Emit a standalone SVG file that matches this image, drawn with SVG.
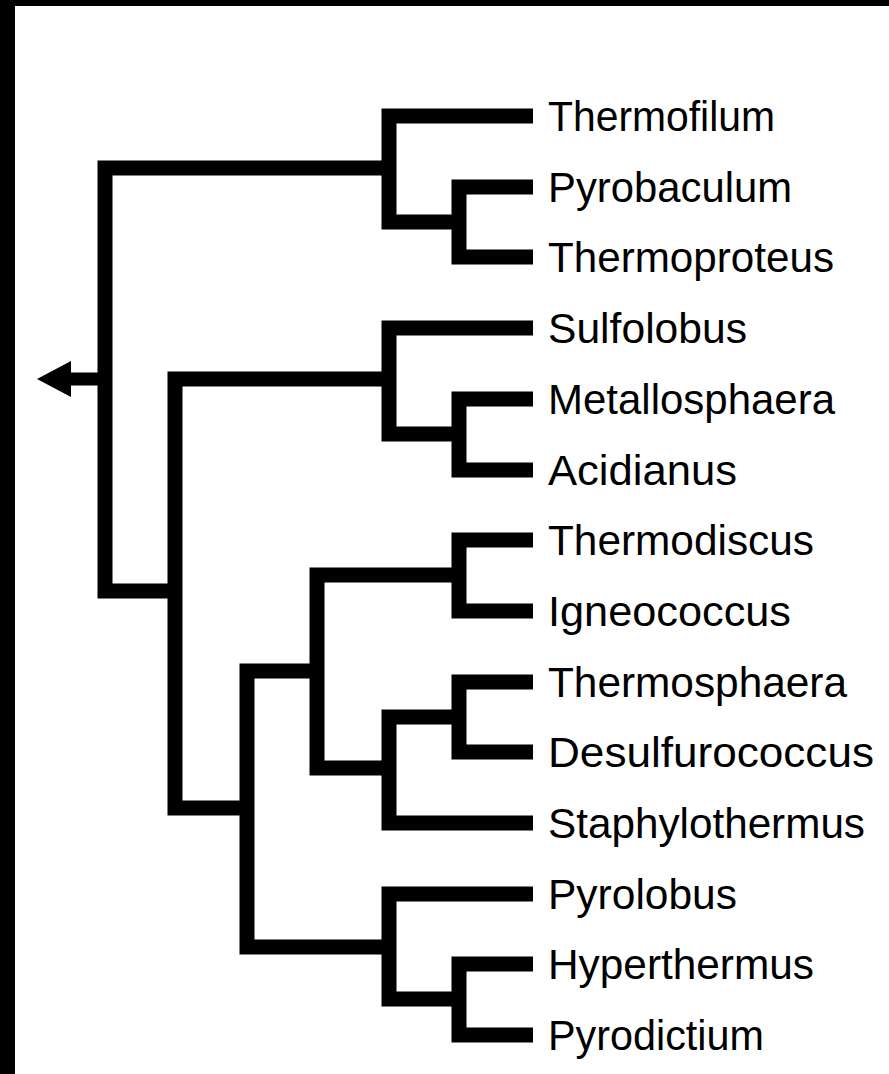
<svg xmlns="http://www.w3.org/2000/svg" width="889" height="1074" viewBox="0 0 889 1074">
<style>
.br{fill:none;stroke:#000;stroke-width:15;stroke-linejoin:miter;stroke-linecap:butt}
.lb{font-family:"Liberation Sans",Arial,sans-serif;font-size:42px;fill:#000}
</style>
<rect x="0" y="0" width="889" height="1074" fill="#000"/>
<rect x="15" y="6" width="874" height="1068" fill="#fff"/>
<g id="connectors">
<path class="br" d="M533,187 H459 V257 H533"/>
<path class="br" d="M533,116 H389 V222 H459"/>
<path class="br" d="M533,399 H459 V470 H533"/>
<path class="br" d="M533,328 H389 V434 H459"/>
<path class="br" d="M533,540 H459 V611 H533"/>
<path class="br" d="M533,682 H459 V752 H533"/>
<path class="br" d="M459,717 H389 V823 H533"/>
<path class="br" d="M459,575 H317 V768 H389"/>
<path class="br" d="M533,964 H459 V1035 H533"/>
<path class="br" d="M533,894 H389 V999 H459"/>
<path class="br" d="M317,671 H247 V947 H389"/>
<path class="br" d="M389,379 H175 V808 H247"/>
<path class="br" d="M389,168 H105 V591 H175"/>
<path d="M105,379 H71" fill="none" stroke="#000" stroke-width="13"/>
<polygon points="37,379 71,361 71,397" fill="#000"/>
</g>
<g id="n-thermofilum"><text class="lb" x="548" y="131" textLength="227" lengthAdjust="spacingAndGlyphs">Thermofilum</text></g>
<g id="n-pyrobaculum"><text class="lb" x="548" y="202" textLength="244" lengthAdjust="spacingAndGlyphs">Pyrobaculum</text></g>
<g id="n-thermoproteus"><text class="lb" x="548" y="272" textLength="286" lengthAdjust="spacingAndGlyphs">Thermoproteus</text></g>
<g id="n-sulfolobus"><text class="lb" x="548" y="343" textLength="199" lengthAdjust="spacingAndGlyphs">Sulfolobus</text></g>
<g id="n-metallosphaera"><text class="lb" x="548" y="414" textLength="287" lengthAdjust="spacingAndGlyphs">Metallosphaera</text></g>
<g id="n-acidianus"><text class="lb" x="548" y="485" textLength="189" lengthAdjust="spacingAndGlyphs">Acidianus</text></g>
<g id="n-thermodiscus"><text class="lb" x="548" y="555" textLength="266" lengthAdjust="spacingAndGlyphs">Thermodiscus</text></g>
<g id="n-igneococcus"><text class="lb" x="548" y="626" textLength="243" lengthAdjust="spacingAndGlyphs">Igneococcus</text></g>
<g id="n-thermosphaera"><text class="lb" x="548" y="697" textLength="299" lengthAdjust="spacingAndGlyphs">Thermosphaera</text></g>
<g id="n-desulfurococcus"><text class="lb" x="548" y="767" textLength="326" lengthAdjust="spacingAndGlyphs">Desulfurococcus</text></g>
<g id="n-staphylothermus"><text class="lb" x="548" y="838" textLength="317" lengthAdjust="spacingAndGlyphs">Staphylothermus</text></g>
<g id="n-pyrolobus"><text class="lb" x="548" y="909" textLength="189" lengthAdjust="spacingAndGlyphs">Pyrolobus</text></g>
<g id="n-hyperthermus"><text class="lb" x="548" y="979" textLength="266" lengthAdjust="spacingAndGlyphs">Hyperthermus</text></g>
<g id="n-pyrodictium"><text class="lb" x="548" y="1050" textLength="216" lengthAdjust="spacingAndGlyphs">Pyrodictium</text></g>
</svg>
